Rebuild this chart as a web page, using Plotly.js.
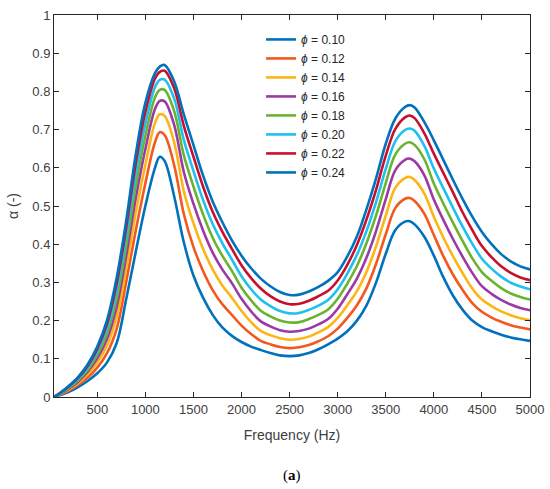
<!DOCTYPE html>
<html>
<head>
<meta charset="utf-8">
<script src="https://cdn.plot.ly/plotly-3.0.1.min.js"></script>
<style>html,body{margin:0;padding:0;background:#fff;}#chart{width:550px;height:489px;}</style>
</head>
<body>
<div id="chart"></div>
<script>
const freq = [50,100,200,300,400,500,600,700,800,900,1000,1100,1150,1200,1300,1400,1500,1600,1700,1800,1900,2000,2100,2200,2300,2400,2500,2600,2700,2800,2900,3000,3100,3200,3300,3400,3500,3600,3700,3750,3800,3900,4000,4100,4200,4300,4400,4500,4600,4700,4800,4900,5000];

const phi010 = [0,0.004,0.013,0.026,0.042,0.062,0.090,0.140,0.255,0.380,0.500,0.600,0.629,0.618,0.525,0.405,0.318,0.260,0.215,0.182,0.160,0.144,0.132,0.123,0.115,0.109,0.107,0.109,0.115,0.125,0.138,0.153,0.172,0.200,0.240,0.300,0.375,0.437,0.459,0.460,0.452,0.420,0.370,0.313,0.265,0.228,0.200,0.183,0.172,0.163,0.156,0.151,0.147];
const phi012 = [0,0.005,0.016,0.032,0.051,0.077,0.114,0.177,0.300,0.436,0.559,0.667,0.693,0.686,0.606,0.479,0.393,0.330,0.280,0.243,0.215,0.187,0.165,0.147,0.138,0.131,0.128,0.130,0.136,0.146,0.159,0.179,0.207,0.240,0.285,0.349,0.426,0.495,0.519,0.521,0.513,0.480,0.424,0.368,0.320,0.280,0.246,0.223,0.208,0.197,0.188,0.182,0.177];
const phi014 = [0,0.006,0.019,0.036,0.059,0.090,0.134,0.208,0.337,0.482,0.608,0.717,0.740,0.736,0.666,0.539,0.455,0.388,0.334,0.292,0.260,0.225,0.196,0.173,0.162,0.154,0.150,0.152,0.158,0.169,0.183,0.207,0.240,0.277,0.328,0.395,0.475,0.548,0.573,0.576,0.568,0.533,0.472,0.417,0.368,0.324,0.284,0.255,0.238,0.224,0.214,0.206,0.201];
const phi016 = [0,0.006,0.021,0.040,0.066,0.101,0.151,0.234,0.368,0.520,0.649,0.754,0.775,0.774,0.712,0.589,0.506,0.436,0.378,0.334,0.298,0.257,0.224,0.198,0.185,0.175,0.171,0.173,0.179,0.190,0.204,0.231,0.269,0.310,0.365,0.435,0.518,0.594,0.621,0.624,0.617,0.581,0.517,0.463,0.413,0.367,0.325,0.290,0.270,0.254,0.242,0.233,0.227];
const phi018 = [0,0.007,0.023,0.044,0.071,0.110,0.165,0.256,0.394,0.553,0.684,0.784,0.804,0.804,0.748,0.633,0.551,0.478,0.417,0.370,0.330,0.286,0.253,0.226,0.211,0.200,0.195,0.196,0.204,0.215,0.229,0.257,0.297,0.343,0.403,0.476,0.560,0.635,0.663,0.667,0.660,0.623,0.559,0.506,0.456,0.408,0.363,0.327,0.304,0.285,0.271,0.262,0.255];
const phi020 = [0,0.007,0.025,0.047,0.076,0.118,0.178,0.276,0.419,0.584,0.716,0.811,0.830,0.831,0.781,0.673,0.592,0.516,0.453,0.403,0.360,0.316,0.282,0.255,0.238,0.225,0.219,0.220,0.228,0.239,0.254,0.282,0.323,0.372,0.435,0.511,0.597,0.670,0.699,0.703,0.697,0.658,0.598,0.546,0.495,0.446,0.401,0.362,0.336,0.315,0.299,0.289,0.282];
const phi022 = [0,0.008,0.027,0.050,0.081,0.126,0.190,0.295,0.442,0.612,0.746,0.833,0.851,0.854,0.808,0.710,0.629,0.551,0.485,0.433,0.388,0.345,0.311,0.284,0.264,0.250,0.243,0.244,0.252,0.264,0.278,0.305,0.346,0.398,0.465,0.543,0.632,0.702,0.732,0.737,0.730,0.691,0.637,0.586,0.535,0.483,0.437,0.395,0.366,0.342,0.325,0.313,0.306];
const phi024 = [0,0.008,0.028,0.052,0.085,0.132,0.200,0.310,0.460,0.635,0.770,0.848,0.865,0.869,0.826,0.740,0.660,0.580,0.512,0.458,0.410,0.370,0.337,0.310,0.290,0.275,0.267,0.268,0.276,0.288,0.304,0.327,0.368,0.420,0.492,0.573,0.663,0.729,0.759,0.764,0.758,0.720,0.672,0.620,0.568,0.518,0.472,0.432,0.400,0.374,0.355,0.342,0.334];

const seriesNames = ["0.10","0.12","0.14","0.16","0.18","0.20","0.22","0.24"];
const seriesValues = [phi010,phi012,phi014,phi016,phi018,phi020,phi022,phi024];
const colors = ["#0072BD","#F4581C","#FDB515","#9B3AA5","#6AB42D","#1EC0F0","#C8102E","#0072BD"];

const xTicks = [500,1000,1500,2000,2500,3000,3500,4000,4500,5000];
const yTicks = [0,0.1,0.2,0.3,0.4,0.5,0.6,0.7,0.8,0.9,1];
const yTickText = ["0","0.1","0.2","0.3","0.4","0.5","0.6","0.7","0.8","0.9","1"];

const traces = seriesValues.map((v,i)=>({
  x: freq, y: v, type: 'scatter', mode: 'lines',
  name: '<i>ϕ</i> = ' + seriesNames[i],
  line: {color: colors[i], width: 2.6, shape: 'spline', smoothing: 1}
}));

const axisCommon = {
  showline: true, linecolor: '#262626', linewidth: 1, mirror: 'ticks',
  ticks: 'inside', ticklen: 5, tickcolor: '#262626', showgrid: false, zeroline: false,
  tickfont: {family: 'Liberation Sans, Arial, sans-serif', size: 13, color: '#404040'}
};

const layout = {
  width: 550, height: 489,
  margin: {l: 54, r: 20, t: 15, b: 92},
  paper_bgcolor: '#fff', plot_bgcolor: '#fff',
  showlegend: true,
  legend: {
    x: 0.435, y: 0.974, xanchor: 'left', yanchor: 'top',
    bgcolor: 'rgba(255,255,255,0)', borderwidth: 0,
    itemwidth: 30, tracegroupgap: 0,
    font: {family: 'Liberation Sans, Arial, sans-serif', size: 12, color: '#262626'}
  },
  xaxis: Object.assign({}, axisCommon, {
    range: [50, 5000], tickvals: xTicks,
    title: {text: 'Frequency (Hz)', standoff: 14, font: {family: 'Liberation Sans, Arial, sans-serif', size: 14, color: '#404040'}}
  }),
  yaxis: Object.assign({}, axisCommon, {
    range: [0, 1], tickvals: yTicks, ticktext: yTickText,
    title: {text: 'α (-)', standoff: 10, font: {family: 'Liberation Sans, Arial, sans-serif', size: 14, color: '#404040'}}
  }),
  annotations: [{
    text: '(<b>a</b>)', xref: 'paper', yref: 'paper', x: 0.5, y: -0.205,
    xanchor: 'center', yanchor: 'middle', showarrow: false,
    font: {family: 'Liberation Serif, Times New Roman, serif', size: 15, color: '#000'}
  }]
};

Plotly.newPlot('chart', traces, layout, {displayModeBar: false, staticPlot: true});
</script>
</body>
</html>
